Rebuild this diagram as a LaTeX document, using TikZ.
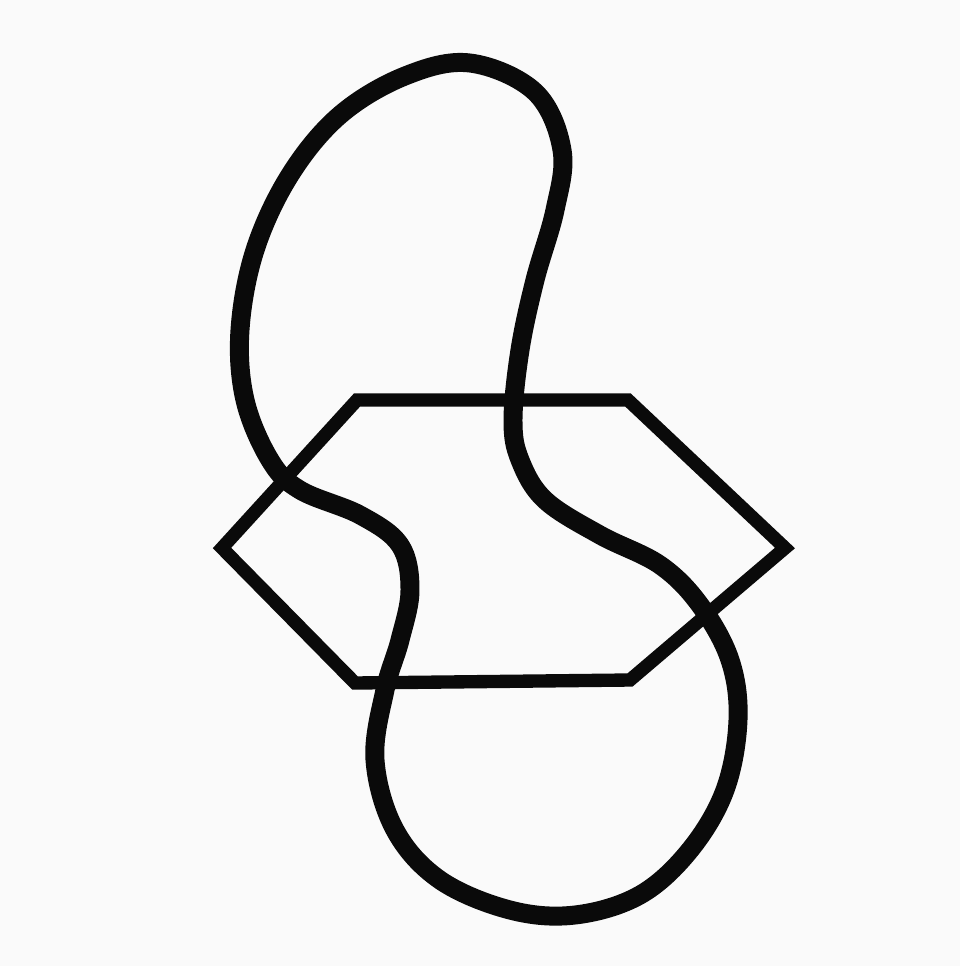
\documentclass[tikz,border=0pt]{standalone}
\usepackage{xcolor}
\usepackage{tikz}
\definecolor{PaperBg}{RGB}{250,250,250}
\definecolor{InkBlack}{RGB}{10,10,10}

\begin{document}
\begin{tikzpicture}[
    hexline/.style={draw=InkBlack,line width=3.8pt,line join=miter},
    loopline/.style={draw=InkBlack,line width=5.4pt,line join=round}
  ]
    \fill[PaperBg] (0,0) rectangle (9.60,-9.66);
    \useasboundingbox (0,0) rectangle (9.60,-9.66);
    % hexagon
    \draw[hexline] (3.57,-4.00) -- (6.28,-4.00) -- (7.85,-5.48) -- (6.30,-6.80)
      -- (3.55,-6.83) -- (2.22,-5.48) -- cycle;
    % closed loop
    \draw[loopline] plot[smooth cycle,tension=0.6] coordinates {
      (4.70,-0.63) (5.35,-0.92) (5.62,-1.50) (5.55,-2.10) (5.35,-2.80)
      (5.20,-3.50) (5.13,-4.20) (5.20,-4.60) (5.45,-5.00) (6.00,-5.35)
      (6.60,-5.65) (7.00,-6.05) (7.30,-6.60) (7.38,-7.20) (7.25,-7.90)
      (6.90,-8.50) (6.40,-8.95) (5.75,-9.15) (5.10,-9.10) (4.40,-8.80)
      (3.95,-8.30) (3.75,-7.60) (3.85,-6.90) (4.00,-6.40) (4.10,-5.90)
      (4.00,-5.45) (3.60,-5.15) (3.00,-4.90) (2.70,-4.60) (2.45,-4.00)
      (2.40,-3.30) (2.55,-2.50) (2.90,-1.75) (3.40,-1.15) (4.05,-0.76)};
  \end{tikzpicture}
\end{document}
